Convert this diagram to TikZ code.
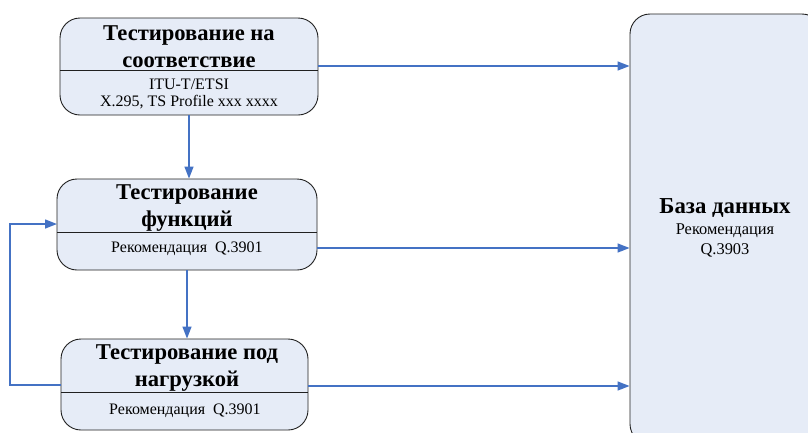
\documentclass[tikz,border=0pt]{standalone}
\usepackage{fontspec}
\setmainfont{Liberation Serif}
\usetikzlibrary{arrows.meta}
\definecolor{boxfill}{HTML}{E6ECF7}
\definecolor{flow}{HTML}{4472C4}
\definecolor{edge}{HTML}{202020}
\tikzset{
  stage/.style={draw=edge, line width=0.9pt, fill=boxfill, rounded corners=20pt, inner sep=0pt},
  head/.style={font=\bfseries\fontsize{22.6}{27}\selectfont, align=center, inner sep=0pt},
  sub/.style={font=\fontsize{16}{17}\selectfont, align=center, inner sep=0pt},
  link/.style={draw=flow, line width=1.4pt, -{Triangle[length=12pt,width=9pt]}},
  divider/.style={draw=edge, line width=0.8pt}
}
\begin{document}
\begin{tikzpicture}[x=1pt,y=-1pt]
\useasboundingbox (0,0) rectangle (808,432);
% database block, partly beyond the frame
\begin{scope}
\clip (0,0) rectangle (808,432);
\node[stage, minimum width=192pt, minimum height=430pt] (db) at (726,229) {};
\end{scope}
\node[font=\bfseries\fontsize{22.8}{24}\selectfont, inner sep=0pt] (dbt) at (725,208) {База данных};
\node[sub, font=\fontsize{16.4}{20}\selectfont] (dbs) at (725,240) {Рекомендация\\Q.3903};

% stage blocks
\node[stage, minimum width=258pt, minimum height=97pt] (b1) at (189,66.5) {};
\node[stage, minimum width=260pt, minimum height=91pt] (b2) at (187,224.5) {};
\node[stage, minimum width=247pt, minimum height=91pt] (b3) at (184.5,384.5) {};

% dividers
\draw[divider] (60,70) -- (318,70);
\draw[divider] (57,232) -- (317,232);
\draw[divider] (61,392) -- (308,392);

% texts
\node[head] (h1) at (189,46.5) {Тестирование на\\соответствие};
\node[sub] (s1) at (189,93.5) {ITU-T/ETSI\\X.295, TS Profile xxx xxxx};
\node[head] (h2) at (187,208.5) {Тестирование\\функций};
\node[sub] (s2) at (187,249) {Рекомендация~ Q.3901};
\node[head] (h3) at (187,368.5) {Тестирование под\\нагрузкой};
\node[sub] (s3) at (185,411) {Рекомендация~ Q.3901};

% flow to database
\coordinate (o1) at (318,66);
\coordinate (o2) at (317,248);
\coordinate (o3) at (308,386);
\draw[link] (o1) -- (o1 -| db.west);
\draw[link] (o2) -- (o2 -| db.west);
\draw[link] (o3) -- (o3 -| db.west);

% flow between stages
\draw[link] (b1.south -| 189,0) -- (b2.north -| 189,0);
\draw[link] (b2.south -| 187,0) -- (b3.north -| 187,0);

% feedback loop
\coordinate (f1) at (61,385);
\coordinate (f2) at (57,224);
\draw[link] (f1) -- (10,385) -- (10,224) -- (f2);
\end{tikzpicture}
\end{document}
